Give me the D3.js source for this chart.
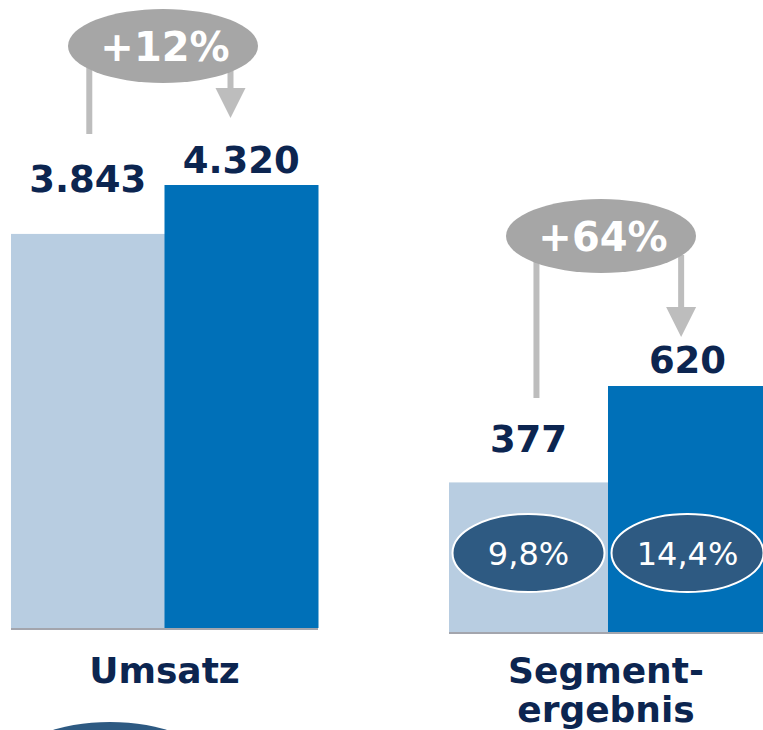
<!DOCTYPE html>
<html>
<head>
<meta charset="utf-8">
<script src="https://cdn.jsdelivr.net/npm/d3@7"></script>
<style>
  body { margin: 0; background: #fff; }
  svg { display: block; font-family: "DejaVu Sans", Verdana, sans-serif; }
</style>
</head>
<body>
<div id="chart"></div>
<script>
// data
var periods = ["Vorjahr", "Aktuell"];
var umsatz = [3843, 4320];
var segment = [377, 620];
var umsatzLabels = ["3.843", "4.320"];
var segmentLabels = ["377", "620"];
var margenLabels = ["9,8%", "14,4%"];
var growthLabels = ["+12%", "+64%"];

var width = 763, height = 730;
var colors = ["#b8cde1", "#0070b8"];
var navy = "#0c2550";

var svg = d3.select("#chart")
  .append("svg")
    .attr("width", width)
    .attr("height", height);

// one panel per KPI, each with its own scale
var panels = [
  { values: umsatz, labels: umsatzLabels, title: ["Umsatz"],
    x0: 11, x1: 318, base: 628, top: 185, growth: growthLabels[0],
    labelGap: [42, 12],
    oval: {cx: 163, cy: 46}, lineX: 0.51, lineY: [67, 134],
    arrowX: 0.43, arrowY: [70, 118] },
  { values: segment, labels: segmentLabels, title: ["Segment-", "ergebnis"],
    x0: 449, x1: 767, base: 632, top: 386, growth: growthLabels[1],
    labelGap: [30, 13],
    oval: {cx: 601, cy: 236}, lineX: 0.55, lineY: [255, 398],
    arrowX: 0.46, arrowY: [255, 337], margins: margenLabels }
];

panels.forEach(function(p) {
  var x = d3.scaleBand()
    .domain(periods)
    .range([p.x0, p.x1])
    .padding(0);
  var y = d3.scaleLinear()
    .domain([0, d3.max(p.values)])
    .range([p.base, p.top]);

  var g = svg.append("g");

  // bars
  g.selectAll("rect")
    .data(p.values)
    .enter()
    .append("rect")
      .attr("x", function(d, i) { return x(periods[i]); })
      .attr("y", function(d) { return y(d); })
      .attr("width", x.bandwidth() + 0.5)
      .attr("height", function(d) { return y(0) - y(d); })
      .attr("fill", function(d, i) { return colors[i]; });

  // baseline
  g.append("line")
    .attr("x1", p.x0).attr("x2", Math.min(p.x1, width))
    .attr("y1", y(0) + 1).attr("y2", y(0) + 1)
    .attr("stroke", "#a3a5ad")
    .attr("stroke-width", 2);

  // value labels
  g.selectAll(".val")
    .data(p.values)
    .enter()
    .append("text")
      .attr("class", "val")
      .attr("x", function(d, i) { return x(periods[i]) + x.bandwidth() / 2; })
      .attr("y", function(d, i) { return y(d) - p.labelGap[i]; })
      .attr("text-anchor", "middle")
      .style("font-size", "37px")
      .style("font-weight", "bold")
      .style("fill", navy)
      .text(function(d, i) { return p.labels[i]; });

  // margin ovals inside the bars
  if (p.margins) {
    var my = 553;
    p.margins.forEach(function(m, i) {
      var cx = x(periods[i]) + x.bandwidth() / 2;
      g.append("ellipse")
        .attr("cx", cx).attr("cy", my)
        .attr("rx", 76).attr("ry", 39)
        .attr("fill", "#2e5a82")
        .attr("stroke", "#fff")
        .attr("stroke-width", 2);
      g.append("text")
        .attr("x", cx).attr("y", my + 12)
        .attr("text-anchor", "middle")
        .style("font-size", "32px")
        .style("fill", "#fff")
        .text(m);
    });
  }

  // growth annotation: line from first bar, arrow onto second bar
  var lx = x(periods[0]) + x.bandwidth() * p.lineX;
  var ax = x(periods[1]) + x.bandwidth() * p.arrowX;
  g.append("line")
    .attr("x1", lx).attr("x2", lx)
    .attr("y1", p.lineY[0]).attr("y2", p.lineY[1])
    .attr("stroke", "#bdbdbd")
    .attr("stroke-width", 6);
  g.append("line")
    .attr("x1", ax).attr("x2", ax)
    .attr("y1", p.arrowY[0]).attr("y2", p.arrowY[1] - 28)
    .attr("stroke", "#bdbdbd")
    .attr("stroke-width", 6);
  g.append("path")
    .attr("d", "M" + (ax - 15) + "," + (p.arrowY[1] - 30) +
               "L" + (ax + 15) + "," + (p.arrowY[1] - 30) +
               "L" + ax + "," + p.arrowY[1] + "Z")
    .attr("fill", "#bdbdbd");

  g.append("ellipse")
    .attr("cx", p.oval.cx).attr("cy", p.oval.cy)
    .attr("rx", 95).attr("ry", 37)
    .attr("fill", "#a6a6a6");
  g.append("text")
    .attr("x", p.oval.cx + 2).attr("y", p.oval.cy + 15)
    .attr("text-anchor", "middle")
    .style("font-size", "40px")
    .style("font-weight", "bold")
    .style("fill", "#fff")
    .text(p.growth);

  // category title
  g.selectAll(".title")
    .data(p.title)
    .enter()
    .append("text")
      .attr("class", "title")
      .attr("x", (p.x0 + Math.min(p.x1, width)) / 2)
      .attr("y", function(d, i) { return 683 + i * 39; })
      .attr("text-anchor", "middle")
      .style("font-size", "36px")
      .style("font-weight", "bold")
      .style("fill", navy)
      .text(function(d) { return d; });
});

// top of the next oval, cut off by the page edge
svg.append("ellipse")
  .attr("cx", 110).attr("cy", 762)
  .attr("rx", 95).attr("ry", 40)
  .attr("fill", "#2e5a82");
</script>
</body>
</html>
